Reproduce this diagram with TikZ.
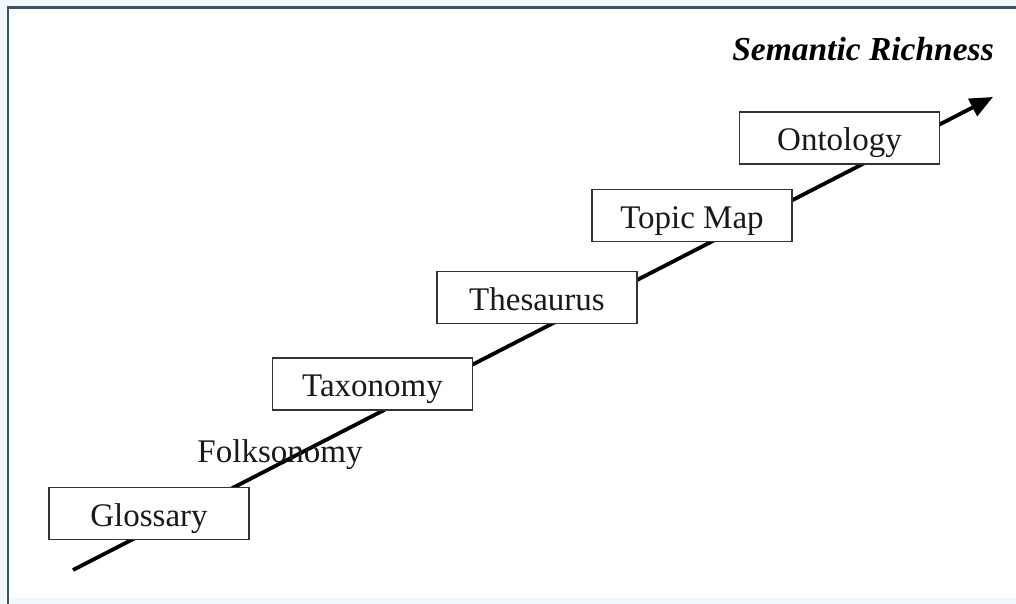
\documentclass[tikz,border=0pt]{standalone}
\usepackage{fontspec}
\setmainfont{Liberation Serif}
\usetikzlibrary{arrows.meta}
\definecolor{framec}{HTML}{3F545C}
\definecolor{outerbg}{HTML}{F1F8FB}
\definecolor{boxline}{HTML}{333333}
\begin{document}
\begin{tikzpicture}[x=1pt,y=-1pt,
  stagebox/.style={draw=boxline,line width=1.6pt,fill=white,minimum width=200pt,minimum height=52pt,inner sep=0pt,text height=25pt,text depth=0pt,font=\fontsize{33}{38}\selectfont,text=black!90},
  plainlabel/.style={inner sep=0pt,font=\fontsize{33}{38}\selectfont,text=black!90}]
\useasboundingbox (0,0) rectangle (1016,604);
\fill[outerbg] (0,0) rectangle (1016,604);
\fill[white] (8,8) rectangle (1016,598);
\draw[framec,line width=2.6pt] (8,604) -- (8,7.5) -- (1016,7.5);
\node[inner sep=0pt,font=\fontsize{33.5}{38}\selectfont\bfseries\itshape] (title) at (863,49) {Semantic Richness};
\coordinate (start) at (73,570);
\coordinate (end) at (993,97);
\draw[line width=3.8pt,-{Triangle[length=23pt,width=19pt]}] (start) -- (end);
\node[plainlabel] (folk) at (280,455) {Folksonomy};
\node[stagebox] (gloss) at (149,513.5) {Glossary};
\node[stagebox] (tax) at (372.5,384) {Taxonomy};
\node[stagebox] (thes) at (537,297.5) {Thesaurus};
\node[stagebox] (topic) at (692,215.5) {Topic Map};
\node[stagebox] (onto) at (839.5,138) {Ontology};
\end{tikzpicture}
\end{document}
